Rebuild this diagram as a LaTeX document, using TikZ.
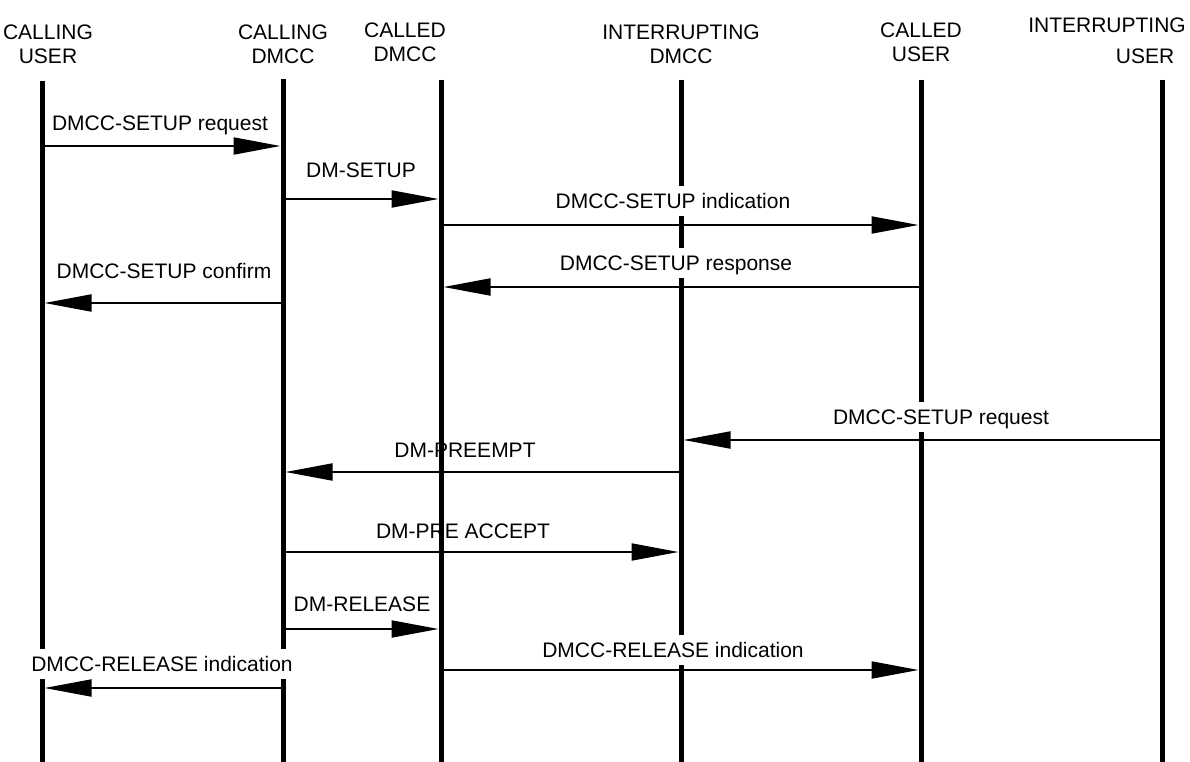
\documentclass[tikz,border=0pt]{standalone}
\usepackage{fontspec}
\setmainfont{Liberation Sans}
\usetikzlibrary{arrows.meta}
\begin{document}
\begin{tikzpicture}[x=1pt,y=-1pt,
  life/.style={line width=5pt},
  msg/.style={line width=2pt,-{Triangle[length=47pt,width=17pt]},shorten >=2.5pt},
  lbl/.style={font=\fontsize{21}{23}\selectfont,fill=white,inner xsep=3pt,inner ysep=7pt,
    text height=15pt,text depth=1pt,anchor=base},
  lblclear/.style={font=\fontsize{21}{23}\selectfont,inner sep=0pt,anchor=base},
  head/.style={font=\fontsize{21}{24}\selectfont,align=center,inner sep=0pt,anchor=base}]
\useasboundingbox (0,0) rectangle (1190,762);
% lifeline ends
\coordinate (cuT) at (42,81);   \coordinate (cuB) at (42,762);
\coordinate (cdT) at (283,79);  \coordinate (cdB) at (283,762);
\coordinate (ddT) at (441,80);  \coordinate (ddB) at (441,762);
\coordinate (idT) at (681,80);  \coordinate (idB) at (681,762);
\coordinate (uuT) at (921,80);  \coordinate (uuB) at (921,762);
\coordinate (iuT) at (1162,80); \coordinate (iuB) at (1162,762);
% headers (anchor = baseline of the last line)
\node[head] (hcu) at (48,64) {CALLING\\USER};
\node[head] (hcd) at (283,64) {CALLING\\DMCC};
\node[head] (hdd) at (405,62) {CALLED\\DMCC};
\node[head] (hid) at (681,64) {INTERRUPTING\\DMCC};
\node[head] (huu) at (921,62) {CALLED\\USER};
\node[head] (hiu) at (1107,33) {INTERRUPTING};
\node[head] (hiu2) at (1145,64) {USER};
% lifelines
\foreach \n in {cu,cd,dd,id,uu,iu} \draw[life] (\n T) -- (\n B);
% message rows
\coordinate (r1) at (0,146);
\coordinate (r2) at (0,199);
\coordinate (r3) at (0,225);
\coordinate (r4) at (0,287);
\coordinate (r5) at (0,303);
\coordinate (r6) at (0,440);
\coordinate (r7) at (0,472);
\coordinate (r8) at (0,552);
\coordinate (r9) at (0,629);
\coordinate (r10) at (0,670);
\coordinate (r11) at (0,688);
% labels
\node[lbl] (l1) at (160,131) {DMCC-SETUP request};
\node[lbl] (l2) at (361,178) {DM-SETUP};
\node[lbl] (l3) at (673,208) {DMCC-SETUP indication};
\node[lbl] (l4) at (676,270) {DMCC-SETUP response};
\node[lbl] (l5) at (164,278) {DMCC-SETUP confirm};
\node[lbl] (l6) at (941,424) {DMCC-SETUP request};
\node[lblclear] (l7) at (465,457) {DM-PREEMPT};
\node[lblclear] (l8) at (463,538) {DM-PRE ACCEPT};
\node[lbl] (l9) at (362,611) {DM-RELEASE};
\node[lbl] (l10) at (673,657) {DMCC-RELEASE indication};
\node[lbl] (l11) at (162,671) {DMCC-RELEASE indication};
% messages
\draw[msg] (cuT |- r1) -- (cdT |- r1);
\draw[msg] (cdT |- r2) -- (ddT |- r2);
\draw[msg] (ddT |- r3) -- (uuT |- r3);
\draw[msg] (uuT |- r4) -- (ddT |- r4);
\draw[msg] (cdT |- r5) -- (cuT |- r5);
\draw[msg] (iuT |- r6) -- (idT |- r6);
\draw[msg] (idT |- r7) -- (cdT |- r7);
\draw[msg] (cdT |- r8) -- (idT |- r8);
\draw[msg] (cdT |- r9) -- (ddT |- r9);
\draw[msg] (ddT |- r10) -- (uuT |- r10);
\draw[msg] (cdT |- r11) -- (cuT |- r11);
\end{tikzpicture}
\end{document}
